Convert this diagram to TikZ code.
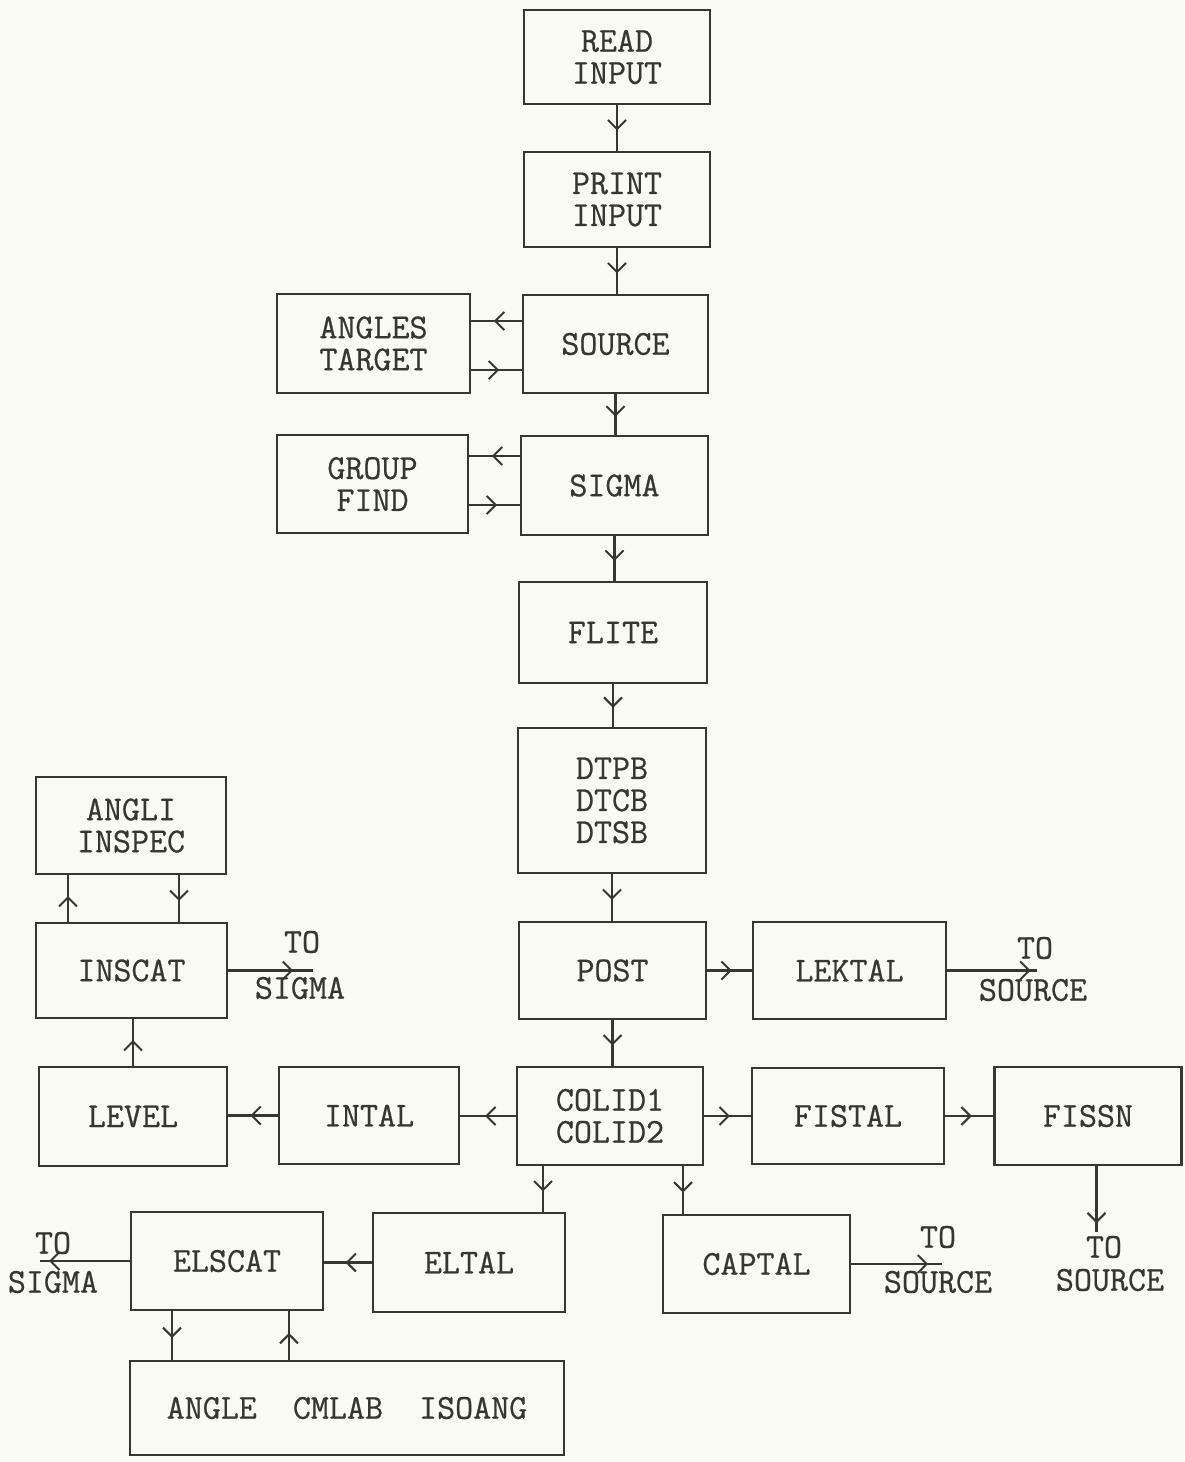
\documentclass[tikz,border=0pt]{standalone}
\usepackage{fontspec}
\newfontfamily\typew{Latin Modern Mono}[FakeBold=0.6]
\usetikzlibrary{arrows.meta,decorations.markings}
\definecolor{ink}{RGB}{55,55,50}
\definecolor{paper}{RGB}{250,250,245}
\begin{document}
\begin{tikzpicture}[x=1pt,y=-1pt,
  box/.style={draw=ink, line width=2.2pt, inner sep=0pt, outer sep=0pt, align=center,
    font=\fontsize{35}{32}\selectfont\typew, text=ink},
  lbl/.style={inner sep=0pt, font=\fontsize{35}{32}\selectfont\typew, text=ink},
  conn/.style={draw=ink, line width=2.2pt},
  midarr/.style={conn, postaction={decorate}, decoration={markings,
    mark=at position #1 with {\arrow[ink]{Straight Barb[length=9pt,width=18pt,line width=2pt]}}}},
  midarr/.default=0.55]
\fill[paper] (0,0) rectangle (1184,1462);
\useasboundingbox (0,0) rectangle (1184,1462);

% boxes
\node[box, minimum width=186pt, minimum height=94pt] (read)   at (617,57)      {READ\\INPUT};
\node[box, minimum width=186pt, minimum height=95pt] (print)  at (617,199.5)   {PRINT\\INPUT};
\node[box, minimum width=185pt, minimum height=98pt] (source) at (615.5,344)   {SOURCE};
\node[box, minimum width=193pt, minimum height=99pt] (angles) at (373.5,343.5) {ANGLES\\TARGET};
\node[box, minimum width=187pt, minimum height=99pt] (sigma)  at (614.5,485.5) {SIGMA};
\node[box, minimum width=191pt, minimum height=98pt] (group)  at (372.5,484)   {GROUP\\FIND};
\node[box, minimum width=188pt, minimum height=101pt] (flite) at (613,632.5)   {FLITE};
\node[box, minimum width=188pt, minimum height=145pt] (dtpb)  at (612,800.5)   {DTPB\\DTCB\\DTSB};
\node[box, minimum width=187pt, minimum height=97pt] (post)   at (612.5,970.5) {POST};
\node[box, minimum width=193pt, minimum height=97pt] (lektal) at (849.5,970.5) {LEKTAL};
\node[box, minimum width=186pt, minimum height=98pt] (colid)  at (610,1116)    {COLID1\\COLID2};
\node[box, minimum width=192pt, minimum height=96pt] (fistal) at (848,1116)    {FISTAL};
\node[box, minimum width=187pt, minimum height=98pt] (fissn)  at (1088,1116)   {FISSN};
\node[box, minimum width=180pt, minimum height=97pt] (intal)  at (369,1115.5)  {INTAL};
\node[box, minimum width=188pt, minimum height=99pt] (level)  at (133,1116.5)  {LEVEL};
\node[box, minimum width=191pt, minimum height=95pt] (inscat) at (131.5,970.5) {INSCAT};
\node[box, minimum width=190pt, minimum height=97pt] (angli)  at (131,825.5)   {ANGLI\\INSPEC};
\node[box, minimum width=192pt, minimum height=99pt] (eltal)  at (469,1262.5)  {ELTAL};
\node[box, minimum width=192pt, minimum height=98pt] (elscat) at (227,1261)    {ELSCAT};
\node[box, minimum width=187pt, minimum height=98pt] (captal) at (756.5,1264)  {CAPTAL};
\node[box, minimum width=434pt, minimum height=94pt] (angle)  at (347,1408)    {ANGLE\ \ CMLAB\ \ ISOANG};

% free ends
\coordinate (lekend) at (1037,970.5);
\coordinate (insend) at (313,970.5);
\coordinate (elsend) at (40,1261);
\coordinate (capend) at (942,1264);
\coordinate (fisend) at (1096.5,1232);

% labels
\node[lbl] (lto)  at (1035,948)  {TO};
\node[lbl] (lsrc) at (1033,990)  {SOURCE};
\node[lbl] (ito)  at (302,942)   {TO};
\node[lbl] (isig) at (300,988)   {SIGMA};
\node[lbl] (eto)  at (53,1243)   {TO};
\node[lbl] (esig) at (53,1282)   {SIGMA};
\node[lbl] (cto)  at (938,1237)  {TO};
\node[lbl] (csrc) at (938,1282)  {SOURCE};
\node[lbl] (fto)  at (1104,1247) {TO};
\node[lbl] (fsrc) at (1110,1280) {SOURCE};

% main column
\draw[midarr] (read.south) -- (read.south |- print.north);
\draw[midarr] (print.south) -- (print.south |- source.north);
\draw[midarr] (source.south) -- (source.south |- sigma.north);
\draw[midarr] (sigma.south) -- (sigma.south |- flite.north);
\draw[midarr] (flite.south) -- (flite.south |- dtpb.north);
\draw[midarr] (dtpb.south) -- (dtpb.south |- post.north);
\draw[midarr] (post.south) -- (post.south |- colid.north);

% side pairs
\draw[midarr] ([yshift=23pt]source.west) -- ([yshift=23pt]source.west -| angles.east);
\draw[midarr] ([yshift=-26.5pt]angles.east) -- ([yshift=-26.5pt]angles.east -| source.west);
\draw[midarr] ([yshift=29.5pt]sigma.west) -- ([yshift=29.5pt]sigma.west -| group.east);
\draw[midarr] ([yshift=-21pt]group.east) -- ([yshift=-21pt]group.east -| sigma.west);

% post / colid row
\draw[midarr] (post.east) -- (post.east -| lektal.west);
\draw[midarr=0.93] (lektal.east) -- (lekend);
\draw[midarr] (colid.east) -- (colid.east -| fistal.west);
\draw[midarr] (fistal.east) -- (fistal.east -| fissn.west);
\draw[midarr=0.87] ([xshift=8.5pt]fissn.south) -- (fisend);
\draw[midarr] (colid.west) -- (colid.west -| intal.east);
\draw[midarr] (intal.west) -- (intal.west -| level.east);

% left column
\draw[midarr] (level.north) -- (level.north |- inscat.south);
\draw[midarr] ([xshift=-63.5pt]inscat.north) -- ([xshift=-63.5pt]inscat.north |- angli.south);
\draw[midarr] ([xshift=48pt]angli.south) -- ([xshift=48pt]angli.south |- inscat.north);
\draw[midarr=0.77] (inscat.east) -- (insend);

% bottom
\draw[midarr] ([xshift=-67pt]colid.south) -- ([xshift=-67pt]colid.south |- eltal.north);
\draw[midarr] ([xshift=73pt]colid.south) -- ([xshift=73pt]colid.south |- captal.north);
\draw[midarr] (eltal.west) -- (eltal.west -| elscat.east);
\draw[midarr=0.9] (elscat.west) -- (elsend);
\draw[midarr=0.85] (captal.east) -- (capend);
\draw[midarr] ([xshift=-55pt]elscat.south) -- ([xshift=-55pt]elscat.south |- angle.north);
\draw[midarr] ([xshift=-58pt]angle.north) -- ([xshift=-58pt]angle.north |- elscat.south);
\end{tikzpicture}
\end{document}
